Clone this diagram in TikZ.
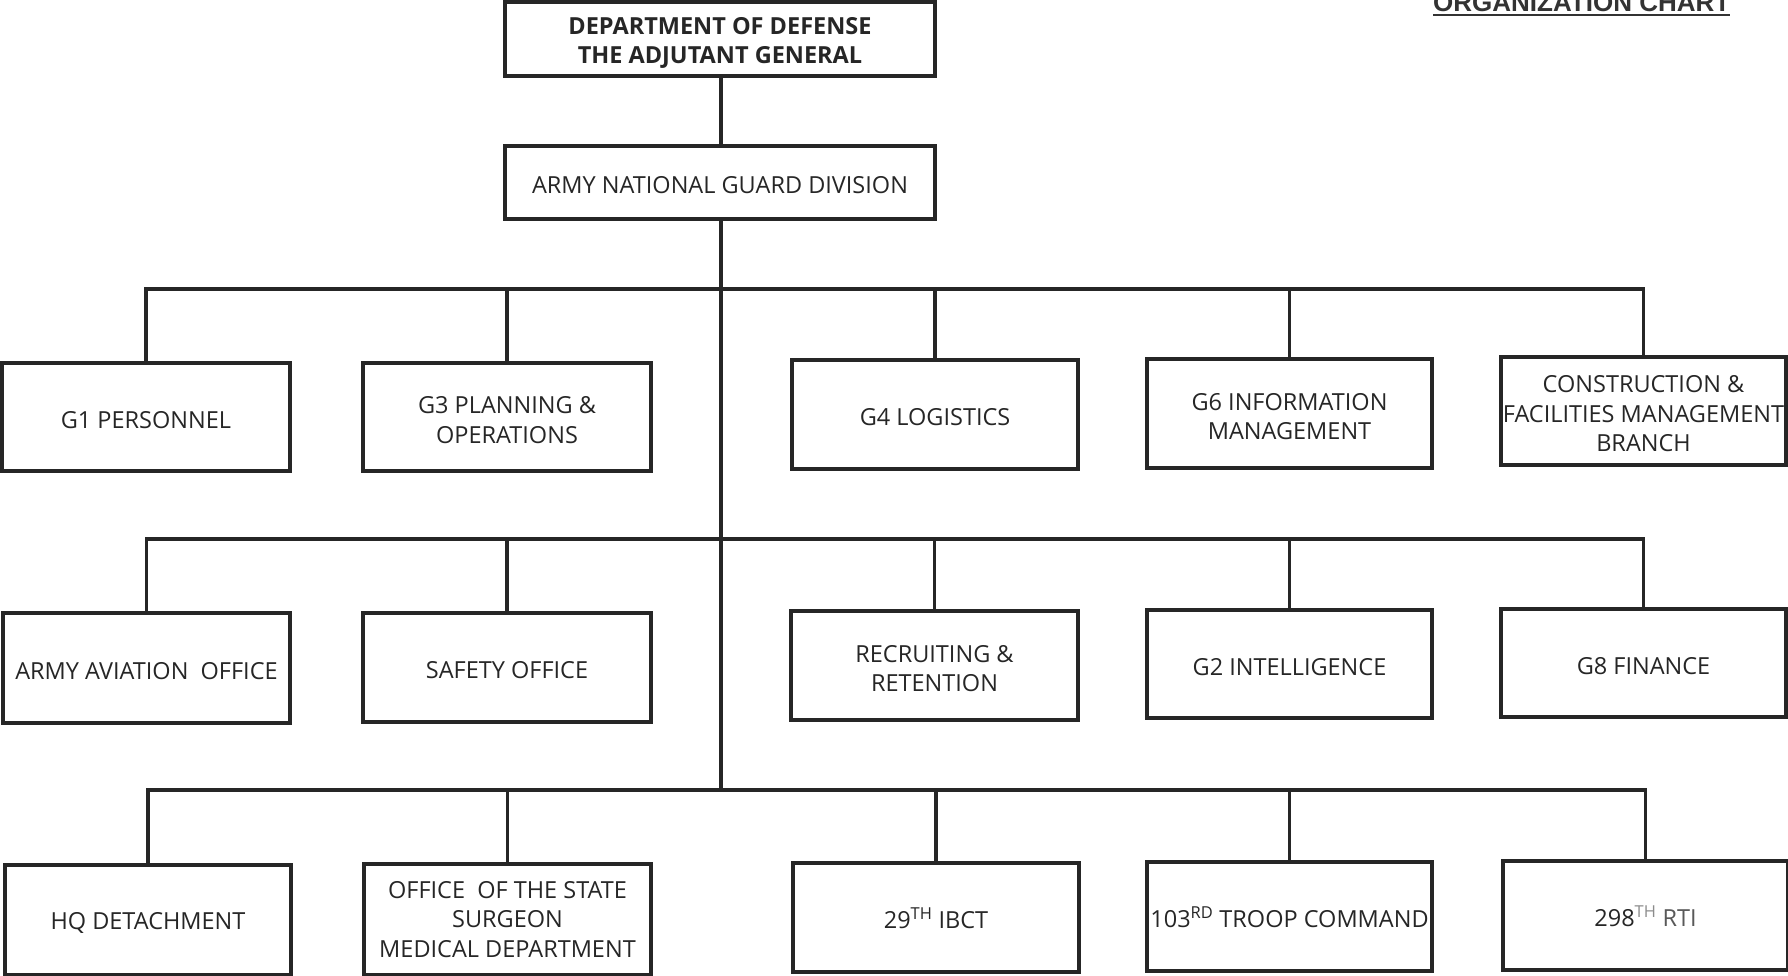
\documentclass[tikz,border=0pt]{standalone}
\usepackage{fontspec}
\setmainfont{Open Sans}
\newfontfamily\titlefont{Liberation Sans}
\newcommand{\tstrut}{\rule{0pt}{22.8pt}}
\begin{document}
\begin{tikzpicture}[x=1pt,y=-1pt,
  box/.style={draw=black!85, line width=3.2pt, fill=white, align=center, inner sep=0pt,
    font=\fontsize{23.5}{29.5}\selectfont, text=black!85,
    execute at begin node={\tstrut}},
  conn/.style={draw=black!85, line width=3.2pt}]
\useasboundingbox (0,0) rectangle (1788,975);
% title (cut by the top edge)
\node[anchor=base west, inner sep=0pt, font=\titlefont\bfseries\fontsize{26}{30}\selectfont, text=black!80] (title) at (1433,11) {ORGANIZATION CHART};
\draw[black!80, line width=2.6pt] (title.base west) ++(0,4) coordinate (ul1) -- (ul1 -| title.base east);
% top boxes
\node[box, minimum width=430, minimum height=74, font=\bfseries\fontsize{23.5}{29.5}\selectfont] (dod) at (720,39) {\rule{0pt}{24.5pt}DEPARTMENT OF DEFENSE\\THE ADJUTANT GENERAL};
\node[box, minimum width=430, minimum height=73] (ang) at (720,182.5) {ARMY NATIONAL GUARD DIVISION};
% row 1
\node[box, minimum width=288, minimum height=108] (g1) at (146,417) {G1 PERSONNEL};
\node[box, minimum width=288, minimum height=108] (g3) at (507,417) {\tstrut G3 PLANNING \&\\OPERATIONS};
\node[box, minimum width=286, minimum height=109] (g4) at (935,414.5) {G4 LOGISTICS};
\node[box, minimum width=285, minimum height=109] (g6) at (1289.5,413.5) {\tstrut G6 INFORMATION\\MANAGEMENT};
\node[box, minimum width=285, minimum height=108] (con) at (1643.5,411) {\tstrut CONSTRUCTION \&\\FACILITIES MANAGEMENT\\BRANCH};
% row 2
\node[box, minimum width=287, minimum height=110] (aav) at (146.5,668) {ARMY AVIATION\ \ OFFICE};
\node[box, minimum width=288, minimum height=109] (saf) at (507,667.5) {SAFETY OFFICE};
\node[box, minimum width=287, minimum height=109] (rec) at (934.5,665.5) {\tstrut RECRUITING \&\\RETENTION};
\node[box, minimum width=285, minimum height=108] (g2) at (1289.5,664) {G2 INTELLIGENCE};
\node[box, minimum width=285, minimum height=108] (g8) at (1643.5,663) {G8 FINANCE};
% row 3
\node[box, minimum width=286, minimum height=110] (hq) at (148,920) {HQ DETACHMENT};
\node[box, minimum width=287, minimum height=111] (oss) at (507.5,919.5) {OFFICE\ \ OF THE STATE\\SURGEON\\MEDICAL DEPARTMENT};
\node[box, minimum width=286, minimum height=109] (ibct) at (936,917.5) {29\textsuperscript{TH} IBCT};
\node[box, minimum width=285, minimum height=109] (trp) at (1289.5,916.5) {103\textsuperscript{RD} TROOP COMMAND};
\node[box, minimum width=285, minimum height=109] (rti) at (1645.5,915.5) {298\textsuperscript{\color{black!45}TH} {\color{black!65}RTI}};
% bus coordinates on the trunk
\coordinate (b1) at (721,289);
\coordinate (b2) at (721,539);
\coordinate (b3) at (721,790);
% trunk
\draw[conn] (dod.south -| b1) -- (ang.north -| b1);
\draw[conn] (ang.south -| b1) -- (b3);
% row 1 bus and drops
\draw[conn] (g1.north) |- (b1) -| (con.north);
\foreach \n in {g3,g4,g6} \draw[conn] (\n.north) -- (\n.north |- b1);
% row 2
\draw[conn] (aav.north) |- (b2) -| (g8.north);
\foreach \n in {saf,rec,g2} \draw[conn] (\n.north) -- (\n.north |- b2);
% row 3
\draw[conn] (hq.north) |- (b3) -| (rti.north);
\foreach \n in {oss,ibct,trp} \draw[conn] (\n.north) -- (\n.north |- b3);
\end{tikzpicture}
\end{document}
